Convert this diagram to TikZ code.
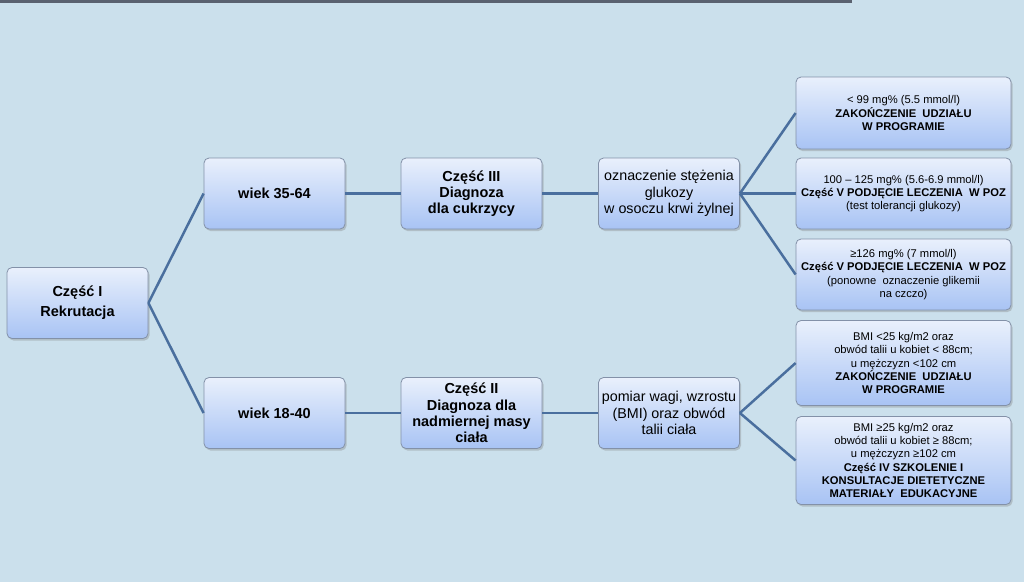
\documentclass[tikz,border=0pt]{standalone}
\usepackage{fontspec}
\setmainfont{Liberation Sans}
\usetikzlibrary{shadows}

\definecolor{bgblue}{HTML}{CBE0EC}
\definecolor{topbar}{HTML}{5A6270}
\definecolor{boxtop}{HTML}{E9F0FC}
\definecolor{boxbot}{HTML}{A8C3F4}
\definecolor{boxline}{HTML}{8391A8}
\definecolor{linkblue}{HTML}{4A6F9E}

\tikzset{
  stage/.style={draw=boxline, line width=0.8pt, rounded corners=5pt,
    top color=boxtop, bottom color=boxbot, align=center, inner sep=1pt,
    drop shadow={opacity=0.35, shadow xshift=1.5pt, shadow yshift=-2pt}},
  mainbox/.style={stage, minimum width=141pt, minimum height=71pt,
    font=\fontsize{14.5}{16.3}\selectfont\bfseries},
  testbox/.style={stage, minimum width=141pt, minimum height=71pt,
    font=\fontsize{14.3}{16.3}\selectfont},
  resultbox/.style={stage, minimum width=215pt,
    font=\fontsize{11.2}{13.3}\selectfont},
  link/.style={draw=linkblue, line width=2.5pt}
}

\begin{document}
\begin{tikzpicture}[x=1pt, y=-1pt]

% background and top bar
\fill[bgblue] (0,0) rectangle (1024,582);
\fill[topbar] (0,0) rectangle (852,3);

% first column
\node[mainbox, font=\fontsize{14.5}{20}\selectfont\bfseries] (rekr) at (77.5,303) {Część I\\Rekrutacja};

% age groups
\node[mainbox] (age1) at (274.5,193.5) {wiek 35-64};
\node[mainbox] (age2) at (274.5,413) {wiek 18-40};

% diagnosis parts
\node[mainbox] (diag3) at (471.5,193.5) {Część III\\Diagnoza\\dla cukrzycy};
\node[mainbox] (diag2) at (471.5,413) {Część II\\Diagnoza dla\\nadmiernej masy\\ciała};

% measurements
\node[testbox] (gluc) at (669,193.5) {oznaczenie stężenia\\glukozy\\w osoczu krwi żylnej};
\node[testbox] (bmi) at (669,413) {pomiar wagi, wzrostu\\(BMI) oraz obwód\\talii ciała};

% results for glucose
\node[resultbox, minimum height=72pt] (res1) at (903.5,113)
  {< 99 mg\% (5.5 mmol/l)\\\textbf{ZAKOŃCZENIE\ \ UDZIAŁU}\\\textbf{W PROGRAMIE}};
\node[resultbox, minimum height=71pt] (res2) at (903.5,193.5)
  {100 – 125 mg\% (5.6-6.9 mmol/l)\\\textbf{Część V PODJĘCIE LECZENIA\ \ W POZ}\\(test tolerancji glukozy)};
\node[resultbox, minimum height=71pt] (res3) at (903.5,274.5)
  {≥126 mg\% (7 mmol/l)\\\textbf{Część V PODJĘCIE LECZENIA\ \ W POZ}\\(ponowne\ \ oznaczenie glikemii\\na czczo)};

% results for BMI
\node[resultbox, minimum height=85pt] (res4) at (903.5,363)
  {BMI <25 kg/m2 oraz\\obwód talii u kobiet < 88cm;\\u mężczyzn <102 cm\\\textbf{ZAKOŃCZENIE\ \ UDZIAŁU}\\\textbf{W PROGRAMIE}};
\node[resultbox, minimum height=88pt] (res5) at (903.5,460.5)
  {BMI ≥25 kg/m2 oraz\\obwód talii u kobiet ≥ 88cm;\\u mężczyzn ≥102 cm\\\textbf{Część IV SZKOLENIE I}\\\textbf{KONSULTACJE DIETETYCZNE}\\\textbf{MATERIAŁY\ \ EDUKACYJNE}};

% connectors
\draw[link] (rekr.east) -- (age1.west);
\draw[link] (rekr.east) -- (age2.west);
\draw[link] (age1.east) -- (diag3.west);
\draw[link] (age2.east) -- (diag2.west);
\draw[link] (diag3.east) -- (gluc.west);
\draw[link] (diag2.east) -- (bmi.west);
\draw[link] (gluc.east) -- (res1.west);
\draw[link] (gluc.east) -- (res2.west);
\draw[link] (gluc.east) -- (res3.west);
\draw[link] (bmi.east) -- (res4.west);
\draw[link] (bmi.east) -- (res5.west);

\end{tikzpicture}
\end{document}
